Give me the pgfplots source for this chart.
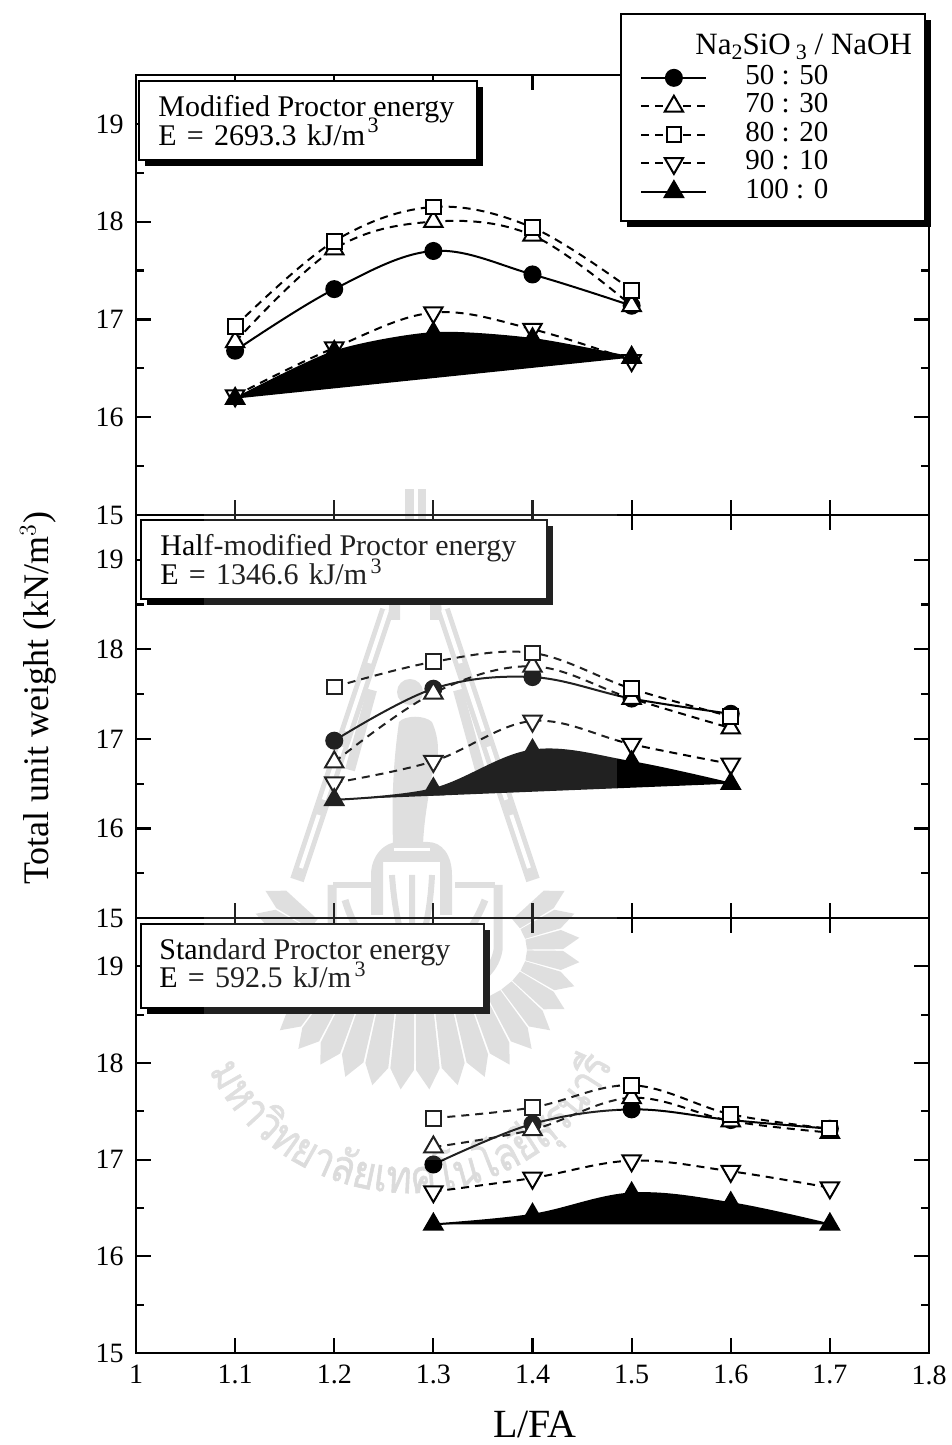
\documentclass[border=0pt]{standalone}
\usepackage{fontspec}
\setmainfont{Liberation Serif}
\newfontfamily\thaifont[Script=Thai,FakeStretch=0.84,FakeBold=1.2]{Loma}
\usepackage{pgfplots}
\pgfplotsset{compat=1.18}
\usetikzlibrary{decorations.text}
\definecolor{wm}{gray}{0.86}
\newcommand\wsp{\spaceskip=5.1pt\relax}
\tikzset{
 sA/.style={black,solid,line width=1pt,smooth,tension=.6,mark=*,mark size=4pt,mark options={solid,fill=black}},
 sB/.style={black,line width=1pt,dash pattern=on 4pt off 3pt,smooth,tension=.6,mark=triangle*,mark size=5.3pt,mark options={solid,fill=white}},
 sC/.style={black,line width=1pt,dash pattern=on 4pt off 3pt,smooth,tension=.6,mark=square*,mark size=3.7pt,mark options={solid,fill=white}},
 sD/.style={black,line width=1pt,dash pattern=on 4pt off 3pt,smooth,tension=.6,mark=triangle*,mark size=5.3pt,mark options={solid,fill=white,rotate=180}},
 sE/.style={black,solid,line width=1pt,smooth,tension=.6,mark=triangle*,mark size=5.3pt,mark options={solid,fill=black}},
 bx/.style={draw=black,line width=1pt,fill=white},
 tl/.style={anchor=base west,inner sep=0pt,font=\fontsize{15pt}{15pt}\selectfont},
 sp/.style={inner sep=0pt,font=\fontsize{11pt}{11pt}\selectfont},
 leg/.style={wm,line width=7pt,line cap=butt},
 rung/.style={white,line width=2pt,dash pattern=on 28pt off 8pt},
}
\pgfplotsset{
 panel/.style={
  scale only axis,width=396.5pt,xmin=1,xmax=1.8,ymin=15,ymax=19.5,anchor=south west,
  xtick={1,1.1,1.2,1.3,1.4,1.5,1.6,1.7,1.8},
  ytick={15,16,17,18,19},minor ytick={15.5,16.5,17.5,18.5,19.5},
  tick align=inside,major tick length=7.5pt,minor tick length=4pt,
  axis line style={line width=1.25pt},tick style={line width=1.1pt,black},
  /pgf/number format/assume math mode=true,
  tick label style={font=\fontsize{14pt}{14pt}\selectfont},
  clip=false,
  yticklabel style={inner xsep=0pt,xshift=-6pt},
 }
}
\begin{document}
\begin{tikzpicture}
\useasboundingbox (0,0) rectangle (476pt,722.5pt);
% ---------- watermark (px coordinates, origin at top-left of the page)
\begin{scope}[shift={(0,722.5pt)},x=.5pt,y=-.5pt]
 % spire
 \fill[wm] (405,489) rectangle (414,600);
 \fill[wm] (418,489) rectangle (426,600);
 \fill[wm] (392,570) -- (400,570) -- (400,620) -- (388,620) -- cycle;
 \fill[wm] (430,570) -- (440,570) -- (442,620) -- (430,620) -- cycle;
 % legs with rungs
 \draw[leg] (387,610) -- (297,880);
 \draw[leg] (443,610) -- (533,880);
 \draw[rung] (387,610) -- (297,880);
 \draw[rung] (443,610) -- (533,880);
 \draw[leg,line width=5pt] (372,690) -- (350,770);
 \draw[leg,line width=5pt] (458,690) -- (480,770);
 % statue
 \fill[wm] (410,692) circle[radius=13];
 \fill[wm] (399,722) .. controls (405,715) and (425,715) .. (432,722) .. controls (440,740) and (440,760) .. (432,775) .. controls (428,800) and (424,820) .. (423,845) -- (393,845) .. controls (392,810) and (392,770) .. (399,722) -- cycle;
 % pedestal
 \fill[wm] (371,915) -- (371,875) .. controls (371,855) and (385,842) .. (398,842) -- (428,842) .. controls (442,842) and (452,855) .. (452,875) -- (452,915) -- (440,915) -- (440,862) -- (383,862) -- (383,915) -- cycle;
 \draw[white,line width=1.5pt] (394,850) -- (430,850);
 % shield
 \draw[wm,line width=4.5pt] (332,885) -- (332,950) .. controls (335,985) and (375,995) .. (412,996) .. controls (450,995) and (492,985) .. (498,950) -- (498,885);
 \draw[wm,line width=3pt] (333,885) -- (375,885) (495,885) -- (455,885);
 \draw[wm,line width=3.5pt] (345,900) .. controls (360,950) and (390,965) .. (412,985) .. controls (435,965) and (465,950) .. (485,900);
 \draw[wm,line width=3pt] (412,875) -- (412,985) (392,875) .. controls (395,920) and (405,950) .. (412,965) .. controls (420,950) and (430,920) .. (432,875);
 % rays
 \foreach \a in {-25,-15,...,205}{
  \fill[wm] ({415+112*cos(\a-4.6)},{950+62*sin(\a-4.6)}) -- ({415+148*cos(\a-4.6)},{950+120*sin(\a-4.6)}) -- ({415+165*cos(\a)},{950+140*sin(\a)}) -- ({415+148*cos(\a+4.6)},{950+120*sin(\a+4.6)}) -- ({415+112*cos(\a+4.6)},{950+62*sin(\a+4.6)}) -- cycle;
 }
 % name on an arc
 \path[decorate,decoration={text along path,text align=center,raise=0pt,
   text={|\thaifont\fontsize{23pt}{23pt}\selectfont\color{wm}|มหาวิทยาลัยเทคโนโลยีสุรนารี}}]
   (205,1062) arc[start angle=157,end angle=21,x radius=222,y radius=215];
\end{scope}
% ---------- panels
\begin{axis}[panel,at={(68pt,465pt)},height=220pt,xticklabels={}]
\addplot[sA] coordinates {(1.1,16.68)(1.2,17.31)(1.3,17.70)(1.4,17.46)(1.5,17.14)};
\addplot[sB] coordinates {(1.1,16.77)(1.2,17.72)(1.3,18.00)(1.4,17.86)(1.5,17.14)};
\addplot[sC] coordinates {(1.1,16.93)(1.2,17.80)(1.3,18.15)(1.4,17.94)(1.5,17.30)};
\addplot[sD] coordinates {(1.1,16.22)(1.2,16.71)(1.3,17.07)(1.4,16.90)(1.5,16.58)};
\addplot[sE,tension=.45,fill=black] coordinates {(1.1,16.19)(1.2,16.67)(1.3,16.86)(1.4,16.80)(1.5,16.61)};
\end{axis}
\begin{axis}[panel,at={(68pt,263.5pt)},height=201.5pt,xticklabels={}]
\addplot[sA] coordinates {(1.2,16.98)(1.3,17.56)(1.4,17.69)(1.5,17.45)(1.6,17.28)};
\addplot[sB] coordinates {(1.2,16.74)(1.3,17.51)(1.4,17.81)(1.5,17.45)(1.6,17.12)};
\addplot[sC] coordinates {(1.2,17.58)(1.3,17.86)(1.4,17.96)(1.5,17.56)(1.6,17.25)};
\addplot[sD] coordinates {(1.2,16.51)(1.3,16.75)(1.4,17.20)(1.5,16.94)(1.6,16.72)};
\addplot[sE,fill=black] coordinates {(1.2,16.32)(1.3,16.44)(1.4,16.87)(1.5,16.74)(1.6,16.50)};
\end{axis}
\begin{axis}[panel,at={(68pt,46pt)},height=217.5pt,
  xticklabels={1,1.1,1.2,1.3,1.4,1.5,1.6,1.7,1.8},
  xticklabel style={inner ysep=0pt,yshift=-6pt}]
\addplot[sA] coordinates {(1.3,16.95)(1.4,17.37)(1.5,17.52)(1.6,17.41)(1.7,17.32)};
\addplot[sB] coordinates {(1.3,17.13)(1.4,17.31)(1.5,17.64)(1.6,17.40)(1.7,17.28)};
\addplot[sC] coordinates {(1.3,17.43)(1.4,17.54)(1.5,17.77)(1.6,17.47)(1.7,17.32)};
\addplot[sD] coordinates {(1.3,16.67)(1.4,16.81)(1.5,16.99)(1.6,16.88)(1.7,16.71)};
\addplot[sE,fill=black] coordinates {(1.3,16.33)(1.4,16.43)(1.5,16.65)(1.6,16.55)(1.7,16.33)};
\end{axis}
% ---------- boxes and labels
\begin{scope}[shift={(0,722.5pt)},x=.5pt,y=-.5pt]
 \fill[black] (145,87) rectangle (483,166);
 \draw[bx] (139,81) rectangle (477,160);
 \fill[black] (147,526) rectangle (553,605);
 \draw[bx] (141,520) rectangle (547,599);
 \fill[black] (147,930) rectangle (490,1014);
 \draw[bx] (141,924) rectangle (484,1008);
 % legend frame
 \fill[black] (627,20) rectangle (931,227);
 \draw[bx] (621,14) rectangle (925,221);
 \node[tl] at (158,117) {Modified Proctor energy};
 \node[tl] at (158,146) {\wsp E = 2693.3 kJ/m};
 \node[sp] at (373,125) {3};
 \node[tl] at (160,556) {Half-modified Proctor energy};
 \node[tl] at (160,585) {\wsp E = 1346.6 kJ/m};
 \node[sp] at (376,566) {3};
 \node[tl] at (159,960) {Standard Proctor energy};
 \node[tl] at (159,988) {\wsp E = 592.5 kJ/m};
 \node[sp] at (360,969) {3};
 \node[anchor=base west,inner sep=0pt,font=\fontsize{15.5pt}{15.5pt}\selectfont] at (695,55) {Na\raisebox{-2.5pt}{\fontsize{11pt}{11pt}\selectfont 2}SiO\,\raisebox{-2.5pt}{\fontsize{11pt}{11pt}\selectfont 3} / NaOH};
 \node[rotate=90,inner sep=0pt,font=\fontsize{18pt}{18pt}\selectfont] at (38,698) {Total unit weight (kN/m$^{\fontsize{13pt}{13pt}\selectfont 3}$)};
 \node[anchor=base,inner sep=0pt,font=\fontsize{20pt}{20pt}\selectfont] at (535,1437) {L/FA};
 % the watermark lies lightly over the drawing
 \fill[white,opacity=.13] (204,480) rectangle (617,1160);
\end{scope}
% ---------- legend
\begin{axis}[at={(0pt,0pt)},anchor=south west,scale only axis,width=476pt,height=722.5pt,
  hide axis,xmin=0,xmax=1,ymin=0,ymax=1,
  legend cell align=left,
  legend style={at={(640/952,1-65/1445)},anchor=north west,draw=none,fill=none,inner sep=0pt,
    font=\fontsize{14.5pt}{14.5pt}\selectfont,
    row sep=1.75pt,
    nodes={inner sep=0pt,text height=9.5pt,text depth=3pt}},
  legend image code/.code={
    \draw[mark repeat=2,mark phase=2,#1] plot coordinates {(0pt,0pt)(16.25pt,0pt)(32.5pt,0pt)};
    \path (51.5pt,0pt);
  }]
\addlegendimage{black,solid,line width=1pt,mark=*,mark size=4pt,mark options={solid,fill=black}}
\addlegendentry{50 : 50}
\addlegendimage{black,line width=1pt,dash pattern=on 4pt off 3pt,mark=triangle*,mark size=5.3pt,mark options={solid,fill=white}}
\addlegendentry{70 : 30}
\addlegendimage{black,line width=1pt,dash pattern=on 4pt off 3pt,mark=square*,mark size=3.7pt,mark options={solid,fill=white}}
\addlegendentry{80 : 20}
\addlegendimage{black,line width=1pt,dash pattern=on 4pt off 3pt,mark=triangle*,mark size=5.3pt,mark options={solid,fill=white,rotate=180}}
\addlegendentry{90 : 10}
\addlegendimage{black,solid,line width=1pt,mark=triangle*,mark size=5.3pt,mark options={solid,fill=black}}
\addlegendentry{100 : 0}
\end{axis}
\end{tikzpicture}
\end{document}
